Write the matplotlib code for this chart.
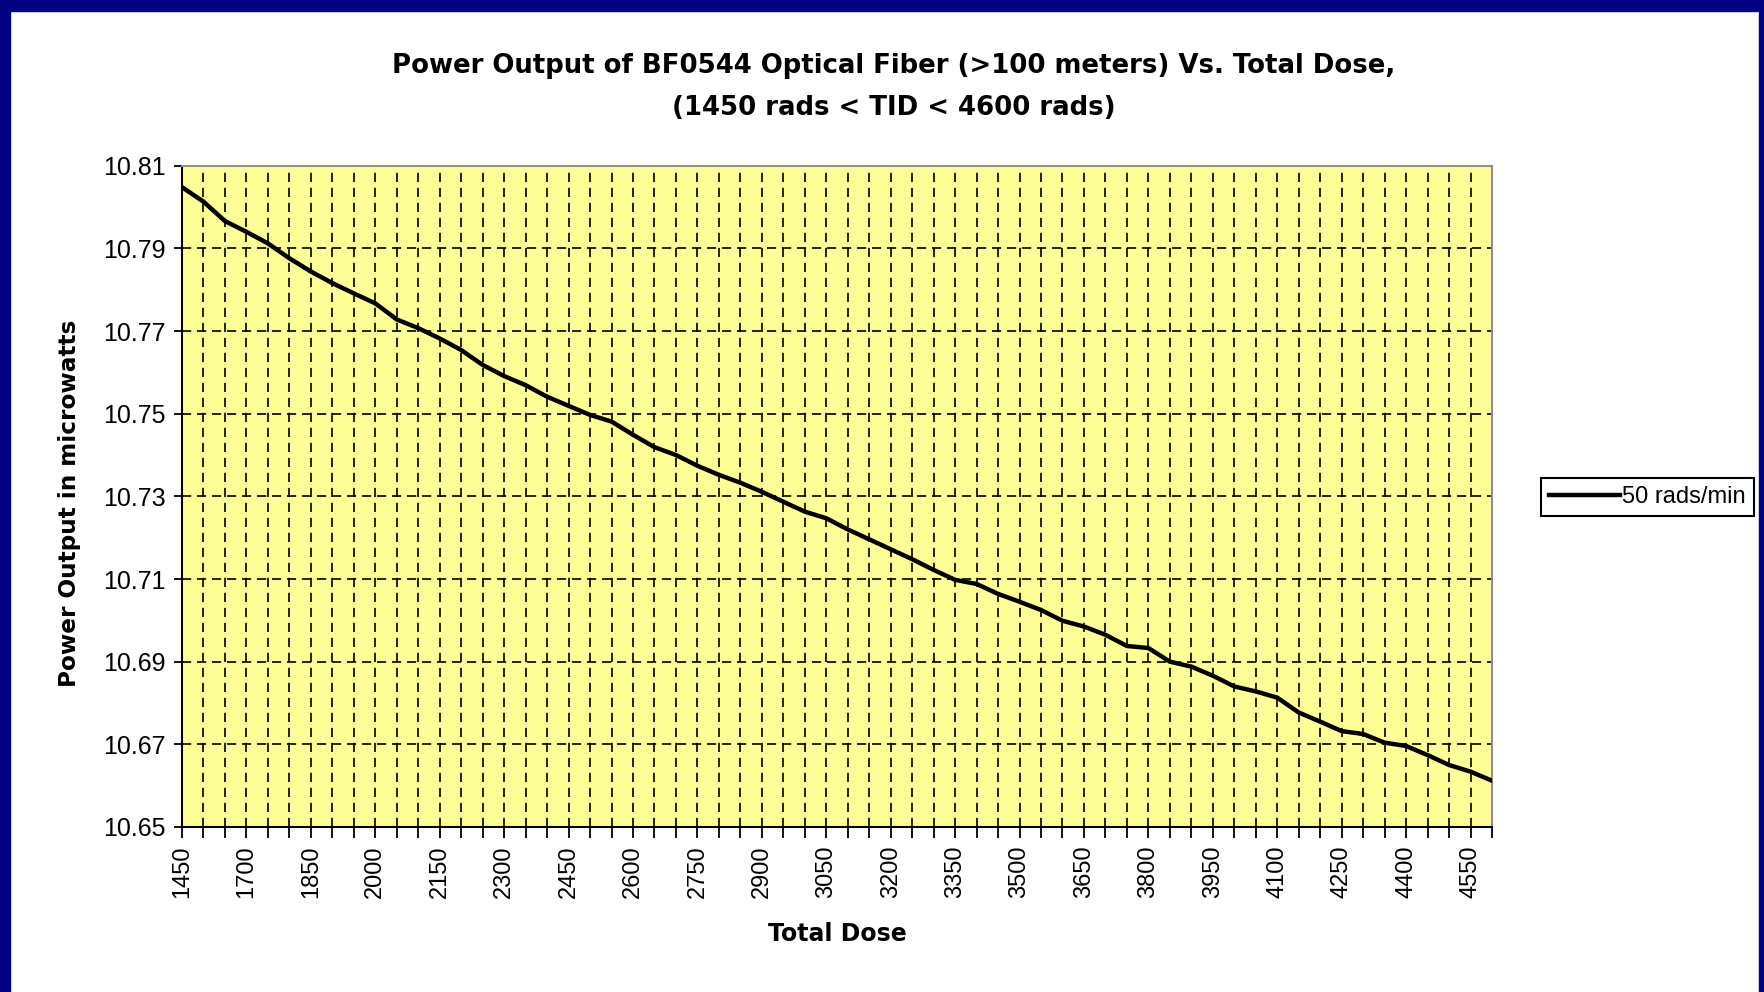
import numpy as np
import matplotlib.pyplot as plt
from matplotlib.patches import Rectangle

# total dose categories (rads)
doses = [1450, 1500, 1600, 1700, 1750, 1800, 1850, 1900, 1950, 2000,
         2050, 2100, 2150, 2200, 2250, 2300, 2350, 2400, 2450, 2500,
         2550, 2600, 2650, 2700, 2750, 2800, 2850, 2900, 2950, 3000,
         3050, 3100, 3150, 3200, 3250, 3300, 3350, 3400, 3450, 3500,
         3550, 3600, 3650, 3700, 3750, 3800, 3850, 3900, 3950, 4000,
         4050, 4100, 4150, 4200, 4250, 4300, 4350, 4400, 4450, 4500,
         4550, 4600]

# power output in microwatts, 50 rads/min
power = [10.8048, 10.8013, 10.7966, 10.7940, 10.7912, 10.7876, 10.7844, 10.7816, 10.7791, 10.7767,
         10.7728, 10.7707, 10.7682, 10.7654, 10.7618, 10.7591, 10.7569, 10.7541, 10.7519, 10.7497,
         10.7481, 10.7449, 10.7419, 10.7400, 10.7374, 10.7352, 10.7333, 10.7311, 10.7287, 10.7263,
         10.7247, 10.7220, 10.7196, 10.7172, 10.7148, 10.7122, 10.7098, 10.7088, 10.7064, 10.7045,
         10.7025, 10.6999, 10.6985, 10.6965, 10.6938, 10.6933, 10.6900, 10.6888, 10.6866, 10.6840,
         10.6828, 10.6813, 10.6777, 10.6755, 10.6732, 10.6725, 10.6704, 10.6696, 10.6674, 10.6650,
         10.6634, 10.6612]

yticks = [10.65, 10.67, 10.69, 10.71, 10.73, 10.75, 10.77, 10.79, 10.81]

plt.rcParams['font.family'] = ['Liberation Sans', 'DejaVu Sans']
bold_font = ['DejaVu Sans']

fig = plt.figure(figsize=(17.65, 9.92), dpi=100)
fig.patch.set_facecolor('white')

# navy frame round the slide
navy = '#000080'
fig.patches.append(Rectangle((0, 1 - 11/992), 1, 11/992, transform=fig.transFigure, color=navy, zorder=0))
fig.patches.append(Rectangle((0, 0), 10/1765, 1, transform=fig.transFigure, color=navy, zorder=0))
fig.patches.append(Rectangle((1 - 6/1765, 0), 6/1765, 1, transform=fig.transFigure, color=navy, zorder=0))

ax = fig.add_axes([182/1765, 1 - 827/992, (1492 - 182)/1765, (827 - 165.7)/992])
ax.set_facecolor('#FFFF99')

x = np.arange(len(doses))
ax.plot(x, power, color='black', lw=3.2, label='50 rads/min', solid_joinstyle='round', zorder=3)

ax.set_xlim(0, len(doses) - 1)
ax.set_ylim(10.65, 10.81)
ax.set_yticks(yticks)
ax.set_yticklabels(['%.2f' % v for v in yticks], fontsize=18)
ax.set_xticks(x)
ax.set_xticklabels([str(d) if i % 3 == 0 else '' for i, d in enumerate(doses)],
                   rotation=90, fontsize=17)

ax.tick_params(axis='y', direction='out', length=6, width=1.3, pad=6, colors='black')
ax.tick_params(axis='x', direction='out', length=8, width=1.3, pad=5, colors='black')

dash = (0, (5.5, 3.5))
ax.grid(True, axis='both', color='black', lw=1.2, linestyle=dash, zorder=1)
ax.set_axisbelow(True)

for s in ['left', 'bottom']:
    ax.spines[s].set_color('black')
    ax.spines[s].set_linewidth(1.5)
for s in ['top', 'right']:
    ax.spines[s].set_color('#909090')
    ax.spines[s].set_linewidth(1.5)

fig.text(894/1765, 1 - 66/992, 'Power Output of BF0544 Optical Fiber (>100 meters) Vs. Total Dose,',
         ha='center', va='center', fontsize=18.7, fontweight='bold', family=bold_font)
fig.text(894/1765, 1 - 108/992, '(1450 rads < TID < 4600 rads)',
         ha='center', va='center', fontsize=18.7, fontweight='bold', family=bold_font)

fig.text(837/1765, 1 - 934/992, 'Total Dose', ha='center', va='center',
         fontsize=17, fontweight='bold', family=bold_font)
fig.text(70/1765, 1 - 503/992, 'Power Output in microwatts', ha='center', va='center',
         rotation=90, fontsize=16.7, fontweight='bold', family=bold_font)

leg = fig.legend(loc='center left', bbox_to_anchor=(1541/1765, 1 - 497/992),
                 fontsize=17, handlelength=3.0, handletextpad=0.1, borderpad=0.35,
                 fancybox=False, framealpha=1, edgecolor='black', borderaxespad=0)
leg.get_frame().set_linewidth(1.5)

fig.savefig('out.png', dpi=100)
